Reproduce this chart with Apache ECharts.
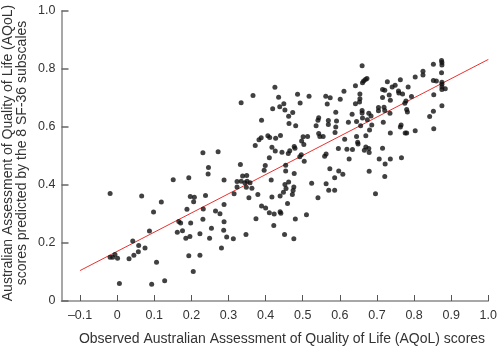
<!DOCTYPE html>
<html>
<head>
<meta charset="utf-8">
<script src="https://cdn.jsdelivr.net/npm/echarts@6/dist/echarts.min.js"></script>
<style>html,body{margin:0;padding:0;background:#fff}#c{width:500px;height:346px}</style>
</head>
<body>
<div id="c"></div>
<script>
// Observed AQoL (x) and predicted AQoL (y)
var obsX = [
-0.019,0.066,0.151,0.193,0.119,0.098,0.197,0.208,0.206,0.188,0.166,0.171,0.198,0.176,0.162,0.185,0.196,0.087,0.042,0.058,0.057,0.045,0.075,0.032,-0.019,-0.012,-0.006,0.001,0.106,0.193,0.205,0.006,0.093,0.128,
0.334,0.366,0.425,0.435,0.389,0.419,0.438,0.449,0.452,0.462,0.473,0.463,0.481,0.382,
0.372,0.388,0.406,0.411,0.427,0.440,0.417,0.426,0.444,0.465,0.461,0.479,0.477,0.410,0.332,0.399,0.396,0.454,0.454,0.477,0.288,0.415,
0.323,0.334,0.344,0.350,0.358,0.338,0.349,0.323,0.348,0.363,0.452,0.462,0.476,0.474,0.472,0.455,0.315,0.355,0.379,0.417,0.439,0.448,0.231,0.272,0.246,0.245,0.238,
0.232,0.231,0.223,0.223,0.288,0.265,0.277,0.288,0.254,0.287,0.295,0.249,0.313,0.281,0.347,0.374,0.389,0.400,0.410,0.423,0.422,0.439,0.441,0.451,0.476,0.480,0.459,
0.486,0.493,0.517,0.497,0.501,0.513,0.503,0.496,0.492,0.504,0.524,0.510,0.541,0.536,0.541,0.543,0.543,0.546,0.555,0.562,0.574,0.566,0.601,0.611,0.569,0.569,0.591,0.589,0.587,0.596,0.613,0.563,0.559,0.573,0.597,0.608,0.563,0.570,0.586,0.586,0.589,
0.660,0.669,0.664,0.673,0.661,0.642,0.654,0.654,0.653,0.642,0.728,0.741,0.749,0.763,0.715,0.721,0.733,0.715,0.758,0.759,0.769,0.736,0.704,0.704,0.719,0.721,0.735,0.633,0.660,0.660,0.661,0.678,0.684,0.645,0.623,0.656,0.674,0.686,0.717,0.680,0.645,0.670,0.648,0.649,0.670,0.678,0.666,0.679,0.634,0.619,0.736,0.715,0.625,0.706,0.736,0.722,0.679,0.721,0.696,
0.784,0.793,0.778,0.775,0.780,0.782,0.803,0.824,0.824,0.852,0.874,0.875,0.875,0.874,0.852,0.860,0.875,0.875,0.875,0.875,0.884,0.853,0.875,0.852,0.842,0.853,0.803,0.776,0.780,0.765,0.763,0.766
];
var predY = [
0.371,0.362,0.418,0.425,0.341,0.307,0.360,0.358,0.342,0.316,0.274,0.269,0.269,0.242,0.237,0.216,0.222,0.241,0.207,0.191,0.170,0.158,0.183,0.146,0.151,0.151,0.160,0.147,0.134,0.156,0.102,0.060,0.058,0.070,
0.684,0.709,0.737,0.703,0.623,0.663,0.670,0.680,0.659,0.637,0.650,0.612,0.604,0.556,
0.536,0.563,0.570,0.564,0.561,0.571,0.530,0.517,0.513,0.518,0.509,0.527,0.533,0.494,0.471,0.467,0.451,0.468,0.448,0.440,0.417,0.417,
0.412,0.413,0.408,0.413,0.408,0.431,0.433,0.393,0.392,0.389,0.402,0.410,0.393,0.381,0.367,0.388,0.370,0.356,0.367,0.359,0.362,0.375,0.511,0.515,0.460,0.438,0.364,
0.317,0.282,0.232,0.158,0.333,0.310,0.301,0.273,0.251,0.244,0.221,0.216,0.215,0.183,0.229,0.284,0.328,0.321,0.304,0.300,0.260,0.308,0.303,0.229,0.215,0.283,0.336,
0.713,0.683,0.706,0.552,0.566,0.567,0.540,0.504,0.497,0.482,0.406,0.297,0.356,0.604,0.623,0.632,0.578,0.567,0.567,0.706,0.701,0.679,0.696,0.723,0.622,0.609,0.621,0.600,0.581,0.526,0.558,0.507,0.499,0.456,0.448,0.437,0.404,0.382,0.382,0.425,0.651,
0.811,0.764,0.759,0.767,0.753,0.742,0.714,0.697,0.686,0.680,0.756,0.738,0.744,0.763,0.729,0.727,0.710,0.702,0.724,0.717,0.714,0.692,0.667,0.656,0.668,0.657,0.647,0.644,0.657,0.648,0.631,0.647,0.638,0.619,0.616,0.604,0.625,0.607,0.616,0.590,0.567,0.570,0.547,0.541,0.531,0.526,0.520,0.512,0.522,0.523,0.579,0.527,0.490,0.490,0.490,0.472,0.447,0.429,0.370,
0.738,0.705,0.690,0.682,0.660,0.652,0.772,0.792,0.779,0.816,0.829,0.822,0.814,0.787,0.760,0.759,0.754,0.747,0.738,0.729,0.732,0.711,0.673,0.654,0.636,0.594,0.587,0.579,0.579,0.607,0.600,0.494
];
// regression line end points
var fitX = [-0.1, 1.0];
var fitY = [0.105, 0.833];
var xTicks = [-0.1,0,0.1,0.2,0.3,0.4,0.5,0.6,0.7,0.8,0.9,1.0];
var yTicks = [0,0.2,0.4,0.6,0.8,1.0];
var xTitle = 'Observed Australian Assessment of Quality of Life (AQoL) scores';
var yTitle1 = 'Australian Assessment of Quality of Life (AQoL)';
var yTitle2 = 'scores predicted by the 8 SF-36 subscales';

var pts = obsX.map(function(x,i){return [x,predY[i]];});
var fit = fitX.map(function(x,i){return [x,fitY[i]];});
function fmt(v){
  if (Math.abs(v) < 1e-9) return '0';
  var s = (Math.round(v*10)/10).toFixed(1);
  return s.replace('-', '\u2013');
}
var FONT = 'Liberation Sans, Arial, Helvetica, sans-serif';
var chart = echarts.init(document.getElementById('c'), null, {renderer:'canvas'});
chart.setOption({
  animation:false,
  grid:{left:61.5, top:11, width:433.2, height:290, containLabel:false},
  xAxis:{type:'value', min:-0.15, max:1.0,
    axisLine:{onZero:false, lineStyle:{color:'#8a8a8a', width:1.5}},
    axisTick:{show:true, inside:true, length:6, customValues:xTicks, lineStyle:{color:'#555', width:1}},
    axisLabel:{customValues:xTicks, formatter:fmt, color:'#333', fontSize:12.5, fontFamily:FONT, margin:8},
    splitLine:{show:false}},
  yAxis:{type:'value', min:0, max:1, interval:0.2,
    axisLine:{show:true, onZero:false, lineStyle:{color:'#8a8a8a', width:1.5}},
    axisTick:{show:true, inside:true, length:7, customValues:yTicks, lineStyle:{color:'#666', width:1.5}},
    axisLabel:{customValues:yTicks, formatter:fmt, color:'#333', fontSize:12.5, fontFamily:FONT, margin:6},
    splitLine:{show:false}},
  graphic:[
    {type:'text', x:282, y:339, style:{text:xTitle, fill:'#333', font:'14px '+FONT, textAlign:'center', textVerticalAlign:'middle'}},
    {type:'text', x:15, y:153, rotation:Math.PI/2, style:{text:yTitle1 + '\n' + yTitle2, fill:'#333', font:'14px '+FONT, textAlign:'center', textVerticalAlign:'middle', lineHeight:14}}
  ],
  series:[
    {type:'line', data:fit, symbol:'none', lineStyle:{color:'#e8312f', width:1}, z:1},
    {type:'scatter', data:pts, symbol:'circle', symbolSize:5, itemStyle:{color:'#111'}, z:2}
  ]
});
</script>
</body>
</html>
